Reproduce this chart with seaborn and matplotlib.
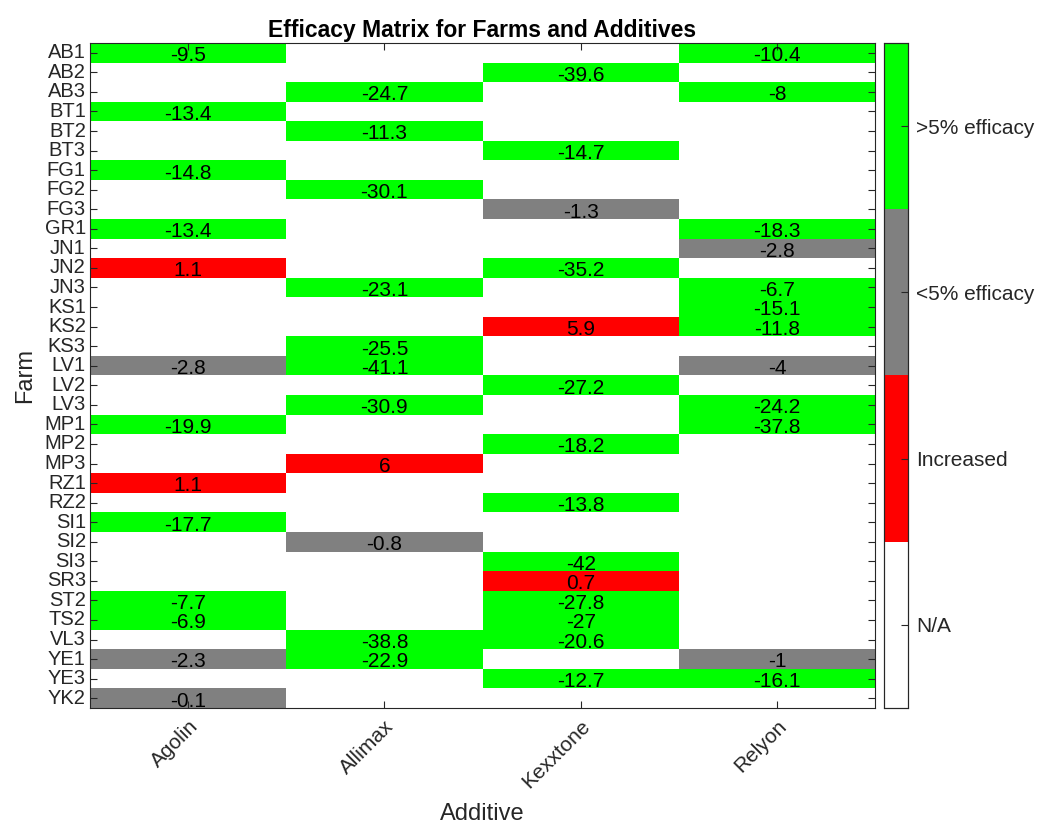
import numpy as np
import pandas as pd
import matplotlib
matplotlib.use("Agg")
import matplotlib.pyplot as plt
from matplotlib.colors import ListedColormap, BoundaryNorm
import seaborn as sns

farms = ["AB1", "AB2", "AB3", "BT1", "BT2", "BT3", "FG1", "FG2", "FG3", "GR1",
         "JN1", "JN2", "JN3", "KS1", "KS2", "KS3", "LV1", "LV2", "LV3", "MP1",
         "MP2", "MP3", "RZ1", "RZ2", "SI1", "SI2", "SI3", "SR3", "ST2", "TS2",
         "VL3", "YE1", "YE3", "YK2"]
additives = ["Agolin", "Allimax", "Kexxtone", "Relyon"]
N = np.nan
agolin = [-9.5, N, N, -13.4, N, N, -14.8, N, N, -13.4,
          N, 1.1, N, N, N, N, -2.8, N, N, -19.9,
          N, N, 1.1, N, -17.7, N, N, N, -7.7, -6.9,
          N, -2.3, N, -0.1]
allimax = [N, N, -24.7, N, -11.3, N, N, -30.1, N, N,
           N, N, -23.1, N, N, -25.5, -41.1, N, -30.9, N,
           N, 6, N, N, N, -0.8, N, N, N, N,
           -38.8, -22.9, N, N]
kexxtone = [N, -39.6, N, N, N, -14.7, N, N, -1.3, N,
            N, -35.2, N, N, 5.9, N, N, -27.2, N, N,
            -18.2, N, N, -13.8, N, N, -42, 0.7, -27.8, -27,
            -20.6, N, -12.7, N]
relyon = [-10.4, N, -8, N, N, N, N, N, N, -18.3,
          -2.8, N, -6.7, -15.1, -11.8, N, -4, N, -24.2, -37.8,
          N, N, N, N, N, N, N, N, N, N,
          N, -1, -16.1, N]
class_labels = ["N/A", "Increased", "<5% efficacy", ">5% efficacy"]
class_colors = ["#ffffff", "#ff0000", "#808080", "#00ff00"]

df = pd.DataFrame({"Agolin": agolin, "Allimax": allimax,
                   "Kexxtone": kexxtone, "Relyon": relyon}, index=farms)

def classify(v):
    if np.isnan(v):
        return 0
    if v > 0:
        return 1
    if v > -5:
        return 2
    return 3

cls = df.map(classify).astype(float)
annot = df.map(lambda v: "" if np.isnan(v) else f"{v:g}")

plt.rcParams["font.family"] = ["Liberation Sans", "DejaVu Sans"]
fig = plt.figure(figsize=(10.38, 8.24), dpi=100)
ax = fig.add_axes([0.0867, 0.1408, 0.7563, 0.807])
cax = fig.add_axes([0.8516, 0.1408, 0.0232, 0.807])

cmap = ListedColormap(class_colors)
norm = BoundaryNorm([-0.5, 0.5, 1.5, 2.5, 3.5], 4)
sns.heatmap(cls, ax=ax, cbar_ax=cax, cmap=cmap, norm=norm,
            annot=annot.values, fmt="",
            annot_kws={"color": "black", "fontsize": 15, "va": "baseline"},
            linewidths=0, cbar_kws={"ticks": [0, 1, 2, 3]})

for t in ax.texts:
    x, y = t.get_position()
    t.set_position((x, y + 0.43))

ax.set_xticks(np.arange(len(additives)) + 0.5)
ax.set_xticklabels(additives, rotation=45, ha="right", rotation_mode="anchor",
                   fontsize=15, color="#262626")
ax.set_yticks(np.arange(len(farms)) + 0.5)
ax.set_yticklabels(farms, rotation=0, fontsize=14.5, color="#262626")
ax.tick_params(axis="both", direction="in", length=5, width=0.8, color="#262626",
               top=True, right=True, bottom=True, left=True, pad=3)
ax.tick_params(axis="x", pad=6)
for s in ax.spines.values():
    s.set_visible(True)
    s.set_color("#262626")
    s.set_linewidth(0.8)
ax.set_xlabel("Additive", fontsize=17, color="#262626", labelpad=8)
ax.set_ylabel("Farm", fontsize=17, color="#262626", labelpad=6)
ax.set_title("Efficacy Matrix for Farms and Additives", fontsize=16.5,
             fontweight="bold", color="black", pad=4)

cax.set_yticklabels(class_labels, fontsize=15, color="#262626")
for s in cax.spines.values():
    s.set_visible(True)
    s.set_color("#262626")
    s.set_linewidth(0.8)

fig.canvas.draw()
cax.yaxis.set_tick_params(which="both", direction="in", length=5, width=0.8,
                          color="#262626", pad=6, right=True, left=False)
cax.minorticks_off()

fig.savefig("out.png", dpi=100)
